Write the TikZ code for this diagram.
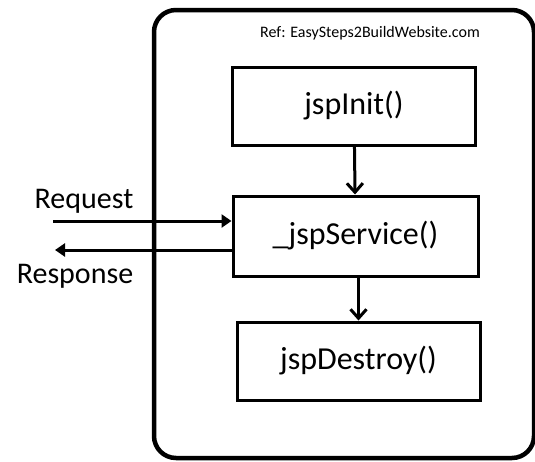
\documentclass[tikz,border=0pt]{standalone}
\usepackage{fontspec}
\setmainfont{Carlito}
\usetikzlibrary{arrows.meta, positioning}

\begin{document}
\begin{tikzpicture}[x=1pt,y=-1pt,
  phase/.style={rectangle,draw=black,line width=3pt,minimum width=243pt,minimum height=78pt,inner sep=0pt,align=center,font=\fontsize{32}{38}\selectfont},
  lbl/.style={inner sep=0pt,font=\fontsize{30}{36}\selectfont},
  flow/.style={-{Straight Barb[length=9pt,width=16pt,line width=3pt]},line width=3pt},
  io/.style={-{Triangle[length=10pt,width=13pt]},line width=3pt}
]
  \useasboundingbox (0,0) rectangle (535,461);
  \draw[line width=4.5pt,rounded corners=22pt] (154,10) rectangle (534,458);
  \node[inner sep=0pt,font=\fontsize{16}{19}\selectfont](ref) at (370,33){Ref: EasySteps2BuildWebsite.com};
  \node[phase](init) at (354,106){jspInit()};
  \node[phase,minimum width=245pt,minimum height=80pt](service) at (355.5,236){\_jspService()};
  \node[phase](destroy) at (358.5,361){jspDestroy()};
  \coordinate (req) at (53,221);
  \coordinate (resp) at (55,250);
  \node[lbl](reqlbl) at (84,201){Request};
  \node[lbl](resplbl) at (75,276){Response};
  \draw[flow](init)--(service);
  \draw[flow](service.south -| destroy)--(destroy);
  \draw[io](req)--(service.west |- req);
  \draw[io](service.west |- resp)--(resp);
\end{tikzpicture}
\end{document}
